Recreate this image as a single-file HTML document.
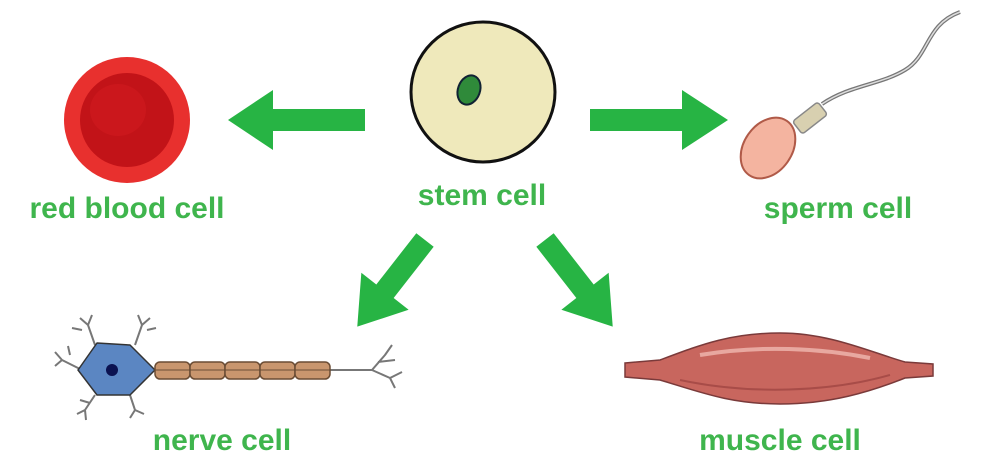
<!DOCTYPE html>
<html><head><style>
html,body{margin:0;padding:0;background:#fff;}
svg{display:block}
text{font-family:"Liberation Sans",sans-serif;font-weight:bold;fill:#3fb54d;font-size:30px;text-anchor:middle}
</style></head><body>
<svg width="991" height="459" viewBox="0 0 991 459" xmlns="http://www.w3.org/2000/svg">
<rect width="991" height="459" fill="#fff"/>
<!-- red blood cell -->
<circle cx="127" cy="120" r="63" fill="#e8302e"/>
<circle cx="127" cy="120" r="47" fill="#c21318"/>
<ellipse cx="118" cy="110" rx="28" ry="26" fill="#d01a1f" opacity="0.6"/>
<text x="127" y="218">red blood cell</text>
<!-- stem cell -->
<ellipse cx="483" cy="92" rx="72" ry="70" fill="#efe9bb" stroke="#111" stroke-width="3"/>
<ellipse cx="469" cy="90" rx="11" ry="15" transform="rotate(20 469 90)" fill="#2f8a3a" stroke="#123" stroke-width="2"/>
<text x="482" y="205">stem cell</text>
<!-- arrows -->
<g fill="#27b444">
<polygon points="365,109 273,109 273,90 228,120 273,150 273,131 365,131"/>
<polygon points="590,109 682,109 682,90 728,120 682,150 682,131 590,131"/>
<g transform="translate(425,240) rotate(128)"><polygon points="0,-11 65,-11 65,-30 110,0 65,30 65,11 0,11"/></g>
<g transform="translate(545,240) rotate(52)"><polygon points="0,-11 65,-11 65,-30 110,0 65,30 65,11 0,11"/></g>
</g>
<!-- sperm -->
<path d="M822,104 C850,85 880,85 905,70 C930,55 925,25 960,12" fill="none" stroke="#777" stroke-width="4"/>
<path d="M822,104 C850,85 880,85 905,70 C930,55 925,25 960,12" fill="none" stroke="#ddd" stroke-width="1.5"/>
<g transform="translate(810,118) rotate(-38)"><rect x="-16" y="-8" width="32" height="16" rx="3" fill="#d8d0b0" stroke="#888" stroke-width="1.5"/></g>
<ellipse cx="768" cy="148" rx="33" ry="24" transform="rotate(-55 768 148)" fill="#f4b4a0" stroke="#b05a48" stroke-width="2"/>
<text x="838" y="218">sperm cell</text>
<!-- neuron -->
<g stroke="#777" stroke-width="2" fill="none">
<path d="M95,345 L88,325 M88,325 L80,318 M88,325 L92,315 M82,330 L72,328"/>
<path d="M135,345 L142,325 M142,325 L150,318 M142,325 L138,315 M147,330 L156,328"/>
<path d="M82,370 L62,360 M62,360 L55,352 M62,360 L55,366 M70,355 L68,346"/>
<path d="M95,395 L85,410 M85,410 L77,414 M85,410 L86,420 M90,403 L80,400"/>
<path d="M130,395 L135,410 M135,410 L130,418 M135,410 L144,414"/>
<path d="M330,370 L372,370 M372,370 L385,355 M385,355 L392,345 M378,362 L395,360 M372,370 L390,378 M390,378 L402,372 M390,378 L395,388"/>
</g>
<path d="M97,343 L130,345 L155,370 L130,395 L97,395 L78,370 Z" fill="#5b86c2" stroke="#333" stroke-width="1.5" stroke-linejoin="round"/>
<circle cx="112" cy="370" r="6" fill="#0b1250"/>
<g fill="#c9966e" stroke="#6b4d35" stroke-width="1.5">
<rect x="155" y="362" width="35" height="17" rx="5"/>
<rect x="190" y="362" width="35" height="17" rx="5"/>
<rect x="225" y="362" width="35" height="17" rx="5"/>
<rect x="260" y="362" width="35" height="17" rx="5"/>
<rect x="295" y="362" width="35" height="17" rx="5"/>
</g>
<g stroke="#6b4d35" stroke-width="1"><line x1="155" y1="370" x2="330" y2="370"/></g>
<text x="222" y="450">nerve cell</text>
<!-- muscle -->
<path d="M625,363 L660,360 C700,345 730,333 780,333 C830,333 870,352 905,362 L933,364 L933,376 L905,378 C870,392 830,404 780,404 C730,404 700,392 660,380 L625,377 Z" fill="#c8665e" stroke="#7a3a3a" stroke-width="1.5"/>
<path d="M700,355 C760,345 820,348 870,358" stroke="#e8a8a0" stroke-width="4" fill="none"/>
<path d="M680,380 C750,395 830,392 890,375" stroke="#a84c48" stroke-width="2" fill="none"/>
<text x="780" y="450">muscle cell</text>
</svg>
</body></html>
